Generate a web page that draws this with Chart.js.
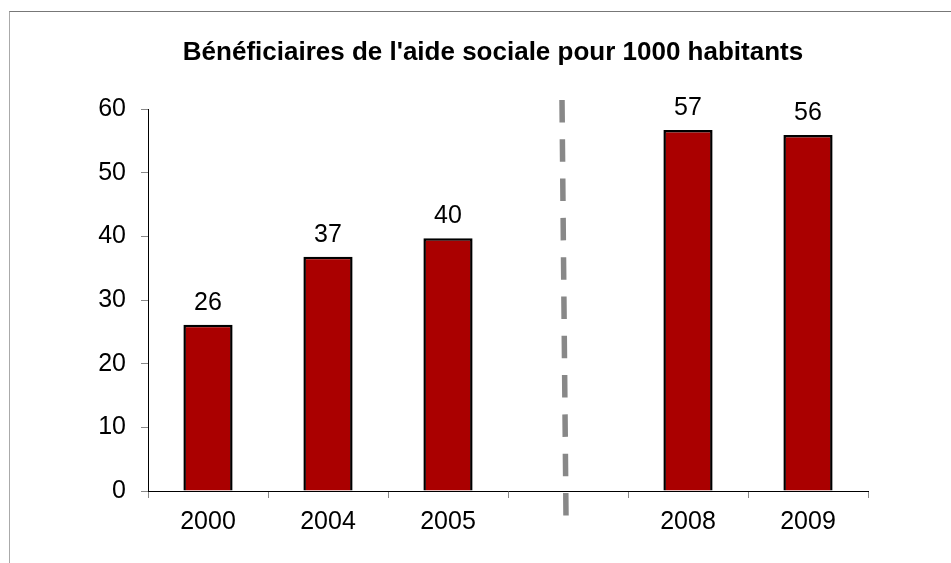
<!DOCTYPE html>
<html>
<head>
<meta charset="utf-8">
<script src="https://cdn.jsdelivr.net/npm/chart.js@4/dist/chart.umd.min.js"></script>
<style>
  html, body { margin: 0; padding: 0; background: #fff; overflow: hidden; }
  #wrap { position: relative; width: 951px; height: 563px; }
  #frame { position: absolute; left: 9px; top: 11px; width: 1000px; height: 600px;
           border-top: 1px solid #777; border-left: 1px solid #aaa; }
  canvas { position: absolute; left: 0; top: 0; }
</style>
</head>
<body>
<div id="wrap">
  <div id="frame"></div>
  <canvas id="c" width="951" height="563"></canvas>
</div>
<script>
const titleText = "Bénéficiaires de l'aide sociale pour 1000 habitants";
const categories = ['2000', '2004', '2005', '', '2008', '2009'];
const values = [26.1, 36.8, 39.7, null, 56.7, 55.9];
const yTicks = [0, 10, 20, 30, 40, 50, 60];
const separatorIndex = 3;

const FONT = "'Liberation Sans', Arial, sans-serif";

const titlePlugin = {
  id: 'customTitle',
  afterDraw(chart) {
    const ca = chart.chartArea;
    const ctx = chart.ctx;
    ctx.save();
    ctx.font = 'bold 26px ' + FONT;
    ctx.fillStyle = '#000';
    ctx.textAlign = 'center';
    ctx.textBaseline = 'middle';
    ctx.fillText(titleText, (ca.left + ca.right) / 2 - 15, ca.top - 56);
    ctx.restore();
  }
};

const labelPlugin = {
  id: 'valueLabels',
  afterDatasetsDraw(chart) {
    const ctx = chart.ctx;
    const meta = chart.getDatasetMeta(0);
    ctx.save();
    ctx.font = '25px ' + FONT;
    ctx.fillStyle = '#000';
    ctx.textAlign = 'center';
    ctx.textBaseline = 'middle';
    meta.data.forEach((bar, i) => {
      const v = values[i];
      if (v === null || v === undefined) return;
      ctx.fillText(String(Math.round(v)), bar.x, bar.y - 22);
    });
    ctx.restore();
  }
};

const separatorPlugin = {
  id: 'separator',
  afterDatasetsDraw(chart) {
    const x = chart.scales.x, y = chart.scales.y;
    const cx = x.getPixelForValue(separatorIndex);
    const top = y.getPixelForValue(60) - 9;
    const bottom = y.getPixelForValue(0) + 25;
    const ctx = chart.ctx;
    ctx.save();
    ctx.strokeStyle = '#888888';
    ctx.lineWidth = 5.5;
    ctx.setLineDash([22.5, 16.8]);
    ctx.beginPath();
    ctx.moveTo(cx - 6, top);
    ctx.lineTo(cx - 2, bottom);
    ctx.stroke();
    ctx.restore();
  }
};

new Chart(document.getElementById('c'), {
  type: 'bar',
  data: {
    labels: categories,
    datasets: [{
      data: values,
      backgroundColor: '#AA0000',
      borderColor: '#000000',
      borderWidth: 2.5,
      borderSkipped: 'bottom',
      categoryPercentage: 1.0,
      barPercentage: 0.41
    }]
  },
  options: {
    responsive: false,
    animation: false,
    devicePixelRatio: 1,
    layout: { padding: { left: 0, right: 83, top: 109, bottom: 0 } },
    plugins: {
      legend: { display: false },
      tooltip: { enabled: false },
      title: { display: false }
    },
    scales: {
      x: {
        grid: { display: true, drawOnChartArea: false, drawTicks: true, tickLength: 7, color: '#888', offset: true },
        border: { display: true, color: '#000', width: 1 },
        ticks: { color: '#000', font: { family: FONT, size: 25 }, padding: 9, maxRotation: 0, autoSkip: false },
        afterFit(scale) { scale.height = 72; }
      },
      y: {
        min: 0, max: 60,
        afterBuildTicks(scale) { scale.ticks = yTicks.map(v => ({ value: v })); },
        grid: { display: true, drawOnChartArea: false, drawTicks: true, tickLength: 7, color: '#888' },
        border: { display: true, color: '#000', width: 1 },
        ticks: { color: '#000', font: { family: FONT, size: 25 }, padding: 15 },
        afterFit(scale) { scale.width = 148; }
      }
    }
  },
  plugins: [labelPlugin, separatorPlugin, titlePlugin]
});
</script>
</body>
</html>
